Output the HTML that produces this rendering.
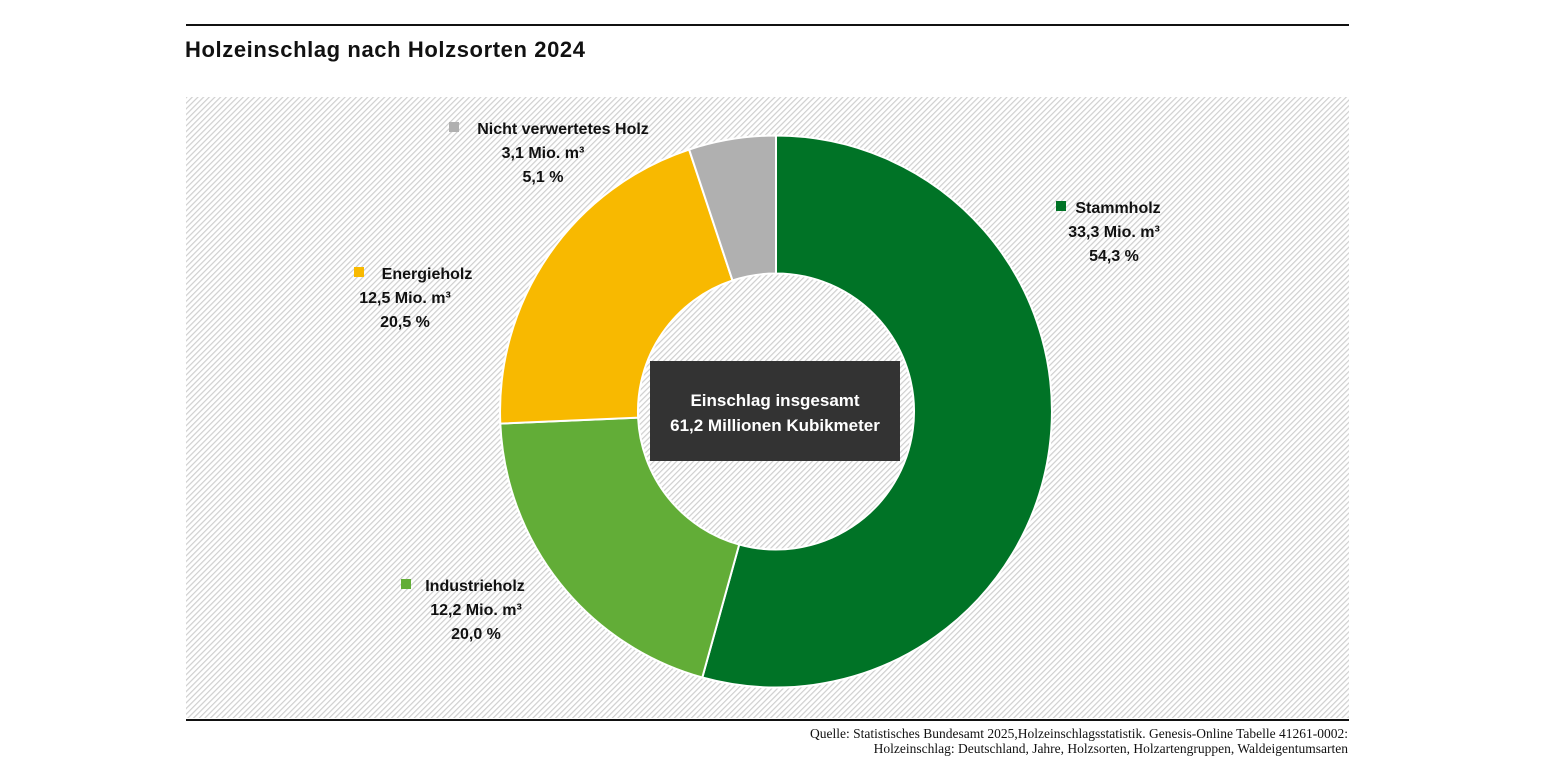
<!DOCTYPE html>
<html><head><meta charset="utf-8"><style>
body{margin:0;background:#fff;width:1545px;height:775px;overflow:hidden;font-family:"Liberation Sans",sans-serif}
</style></head><body>
<svg width="1545" height="775" viewBox="0 0 1545 775" xmlns="http://www.w3.org/2000/svg">
<defs>
<pattern id="h" patternUnits="userSpaceOnUse" width="4" height="4" patternTransform="rotate(45)">
<rect width="4" height="4" fill="#fff"/>
<rect width="1.2" height="4" fill="#cfcfcf"/>
</pattern>
</defs>
<line x1="186" y1="25" x2="1349" y2="25" stroke="#111" stroke-width="2"/>
<text x="185" y="57" font-size="22" font-weight="bold" fill="#111" textLength="400" lengthAdjust="spacing">Holzeinschlag nach Holzsorten 2024</text>
<rect x="186" y="97" width="1163" height="621" fill="url(#h)"/>
<g stroke="#fff" stroke-width="2">
<path d="M776,135.5 A276,276 0 1 1 702.3,677.5 L739.2,544.5 A138,138 0 1 0 776,273.5 Z" fill="#007326"/>
<path d="M702.3,677.5 A276,276 0 0 1 500.3,423.6 L638.1,417.6 A138,138 0 0 0 739.2,544.5 Z" fill="#62ad37"/>
<path d="M500.3,423.6 A276,276 0 0 1 689.1,149.5 L732.5,280.5 A138,138 0 0 0 638.1,417.6 Z" fill="#f8b900"/>
<path d="M689.1,149.5 A276,276 0 0 1 776,135.5 L776,273.5 A138,138 0 0 0 732.5,280.5 Z" fill="#b0b0b0"/>
</g>
<rect x="650" y="361" width="250" height="100" fill="#333"/>
<g fill="#fff" font-size="17" font-weight="bold" text-anchor="middle">
<text x="775" y="406">Einschlag insgesamt</text>
<text x="775" y="431">61,2 Millionen Kubikmeter</text>
</g>
<g font-size="16" font-weight="bold" fill="#111" text-anchor="middle">
<rect x="449" y="122" width="10" height="10" fill="#b0b0b0"/>
<text x="563" y="134">Nicht verwertetes Holz</text>
<text x="543" y="158">3,1 Mio. m³</text>
<text x="543" y="182">5,1 %</text>
<rect x="1056" y="201" width="10" height="10" fill="#007326"/>
<text x="1118" y="213">Stammholz</text>
<text x="1114" y="237">33,3 Mio. m³</text>
<text x="1114" y="261">54,3 %</text>
<rect x="354" y="267" width="10" height="10" fill="#f8b900"/>
<text x="427" y="279">Energieholz</text>
<text x="405" y="303">12,5 Mio. m³</text>
<text x="405" y="327">20,5 %</text>
<rect x="401" y="579" width="10" height="10" fill="#62ad37"/>
<text x="475" y="591">Industrieholz</text>
<text x="476" y="615">12,2 Mio. m³</text>
<text x="476" y="639">20,0 %</text>
</g>
<line x1="186" y1="720" x2="1349" y2="720" stroke="#111" stroke-width="2"/>
<g font-family="Liberation Serif,serif" font-size="13.5" fill="#111" text-anchor="end">
<text x="1348" y="738">Quelle: Statistisches Bundesamt 2025,Holzeinschlagsstatistik. Genesis-Online Tabelle 41261-0002:</text>
<text x="1348" y="753">Holzeinschlag: Deutschland, Jahre, Holzsorten, Holzartengruppen, Waldeigentumsarten</text>
</g>
</svg>
</body></html>
